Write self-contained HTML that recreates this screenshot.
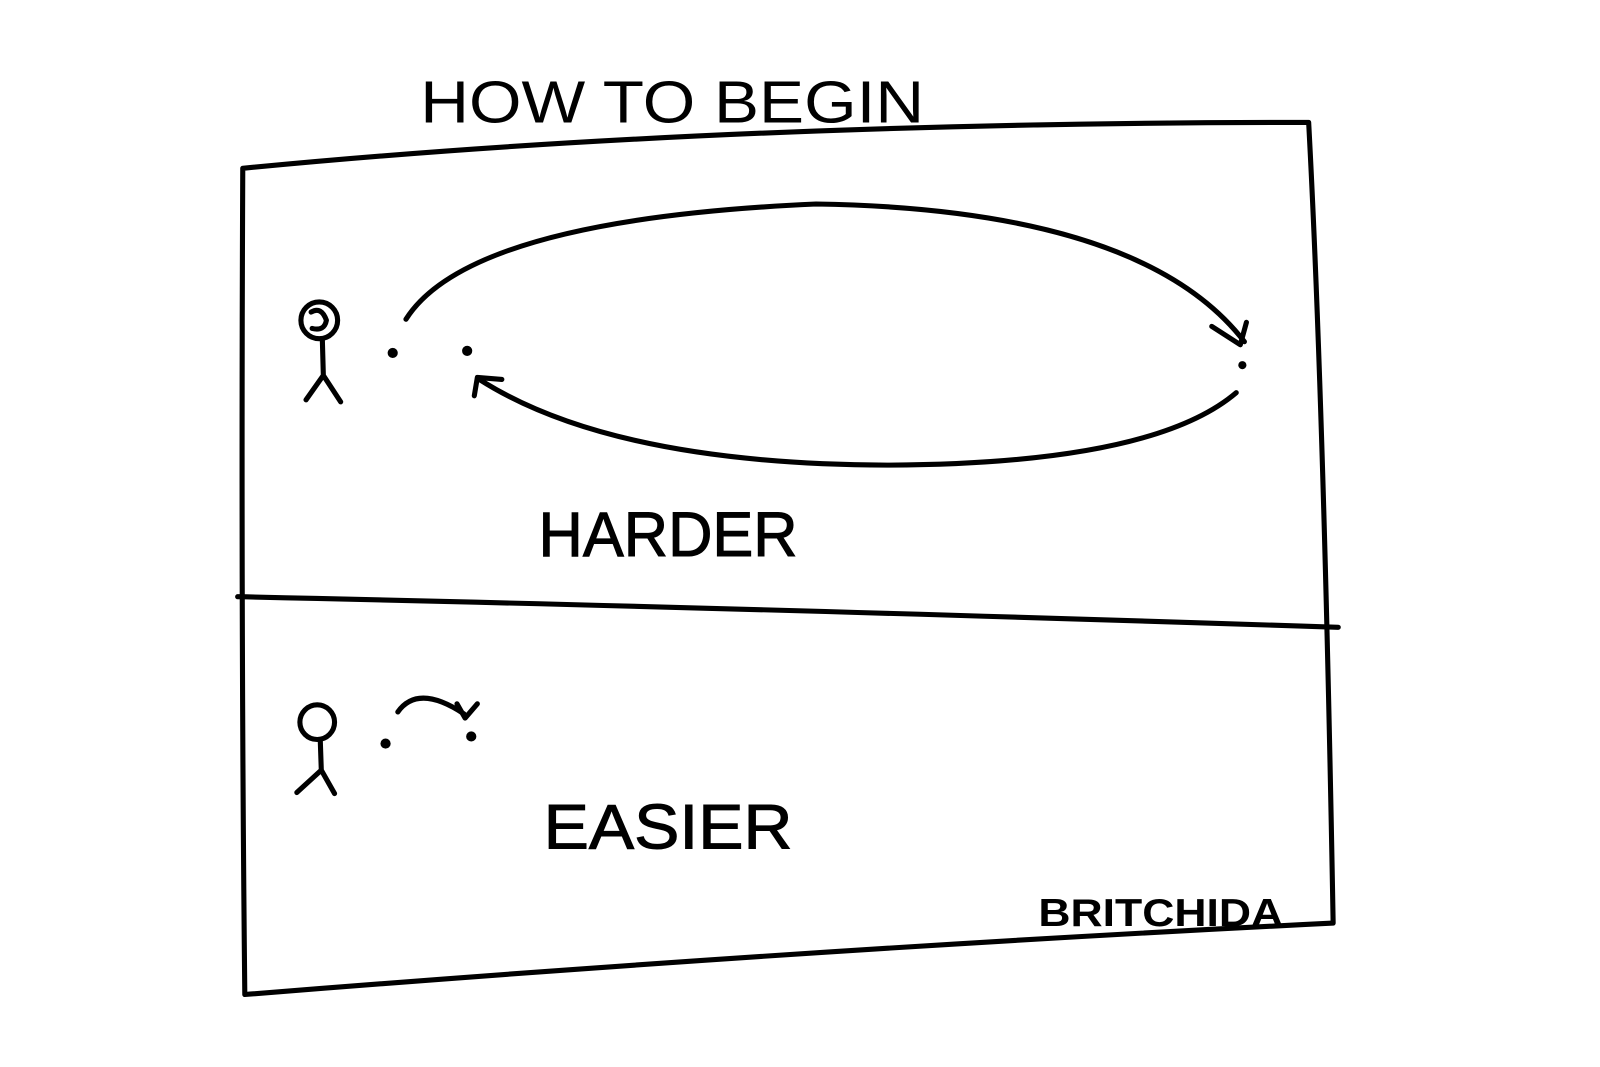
<!DOCTYPE html>
<html><head><meta charset="utf-8"><style>
html,body{margin:0;padding:0;background:#fff;}
svg{display:block}
text{font-family:"Liberation Sans",sans-serif;fill:#000;}
</style></head><body>
<svg width="1600" height="1067" viewBox="0 0 1600 1067" xmlns="http://www.w3.org/2000/svg">
<g transform="scale(1.02)">
<g fill="none" stroke="#000" stroke-width="5" stroke-linecap="round" stroke-linejoin="round">
<path d="M238 165 Q700 120 1283 120 Q1298 400 1307 905 Q800 930 240 975 Q236 600 238 165"/>
<path d="M233 585 Q700 595 1312 615"/>
<circle cx="313" cy="314" r="18"/>
<path d="M305 306 Q315 300 320 314 Q318 325 306 322"/>
<path d="M316 332 L317 368 M317 368 L300 392 M317 368 L334 394"/>
<path d="M398 313 Q460 215 800 200 Q1120 205 1220 335"/>
<path d="M1188 320 L1216 338 L1222 316"/>
<path d="M1212 385 Q1130 455 870 456 Q600 455 470 372"/>
<path d="M465 388 L468 370 L492 372"/>
<circle cx="311" cy="708" r="17"/>
<path d="M314 726 L315 755 M315 755 L291 777 M315 755 L328 778"/>
<path d="M390 698 Q410 670 455 700"/>
<path d="M448 690 L456 704 L468 690"/>
</g>
<g fill="#000">
<circle cx="385" cy="346" r="5"/>
<circle cx="458" cy="344" r="5"/>
<circle cx="1218" cy="358" r="4"/>
<circle cx="378" cy="729" r="5"/>
<circle cx="462" cy="722" r="5"/>
</g>
<text x="412" y="120" font-size="58" textLength="494" lengthAdjust="spacingAndGlyphs">HOW TO BEGIN</text>
<text x="528" y="545" font-size="62" textLength="254" lengthAdjust="spacingAndGlyphs" stroke="#000" stroke-width="1">HARDER</text>
<text x="533" y="832" font-size="62" textLength="244" lengthAdjust="spacingAndGlyphs" stroke="#000" stroke-width="1">EASIER</text>
<text x="1018" y="908" font-size="38" font-weight="bold" textLength="240" lengthAdjust="spacingAndGlyphs">BRITCHIDA</text>
</g>
</svg>
</body></html>
